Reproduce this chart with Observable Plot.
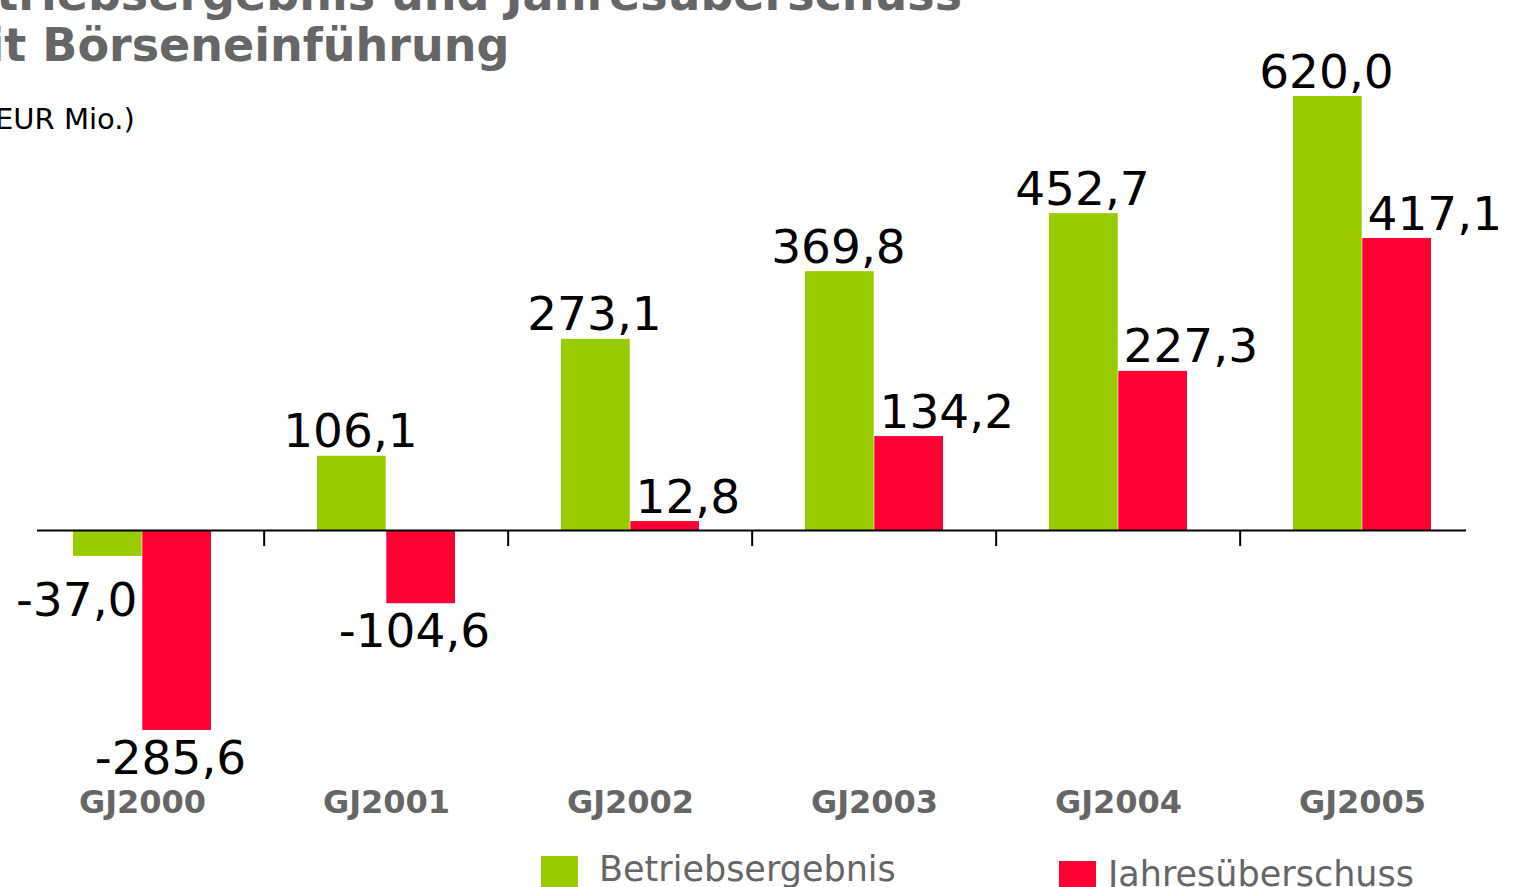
<!DOCTYPE html>
<html>
<head>
<meta charset="utf-8">
<script src="https://cdn.jsdelivr.net/npm/d3@7"></script>
<script src="https://cdn.jsdelivr.net/npm/@observablehq/plot@0.6"></script>
<style>
  body { margin: 0; background: #fff; }
  #wrap { position: relative; width: 1516px; height: 887px; overflow: hidden; font-family: "DejaVu Sans", Verdana, sans-serif; }
  #title { position: absolute; left: -70px; top: -31px; font-weight: bold; font-size: 46px; line-height: 51px; color: #666; white-space: nowrap; }
  #subtitle { position: absolute; left: -52px; top: 105px; font-size: 29px; line-height: 29px; color: #000; white-space: nowrap; }
  #chart { position: absolute; left: 0; top: 0; }
  .leg { position: absolute; display: flex; align-items: flex-start; font-size: 35px; color: #666; white-space: nowrap; }
  .sw { width: 37px; height: 37px; flex: none; }
</style>
</head>
<body>
<div id="wrap">
  <div id="chart"></div>
  <div id="title">Betriebsergebnis und Jahresüberschuss<br>seit Börseneinführung</div>
  <div id="subtitle">(in EUR Mio.)</div>
  <div id="legend"></div>
</div>
<script>
const categories = ["GJ2000", "GJ2001", "GJ2002", "GJ2003", "GJ2004", "GJ2005"];
const seriesNames = ["Betriebsergebnis", "Jahresüberschuss"];
const betriebsergebnis = [-37.0, 106.1, 273.1, 369.8, 452.7, 620.0];
const jahresueberschuss = [-285.6, -104.6, 12.8, 134.2, 227.3, 417.1];
const colors = ["#99CC00", "#FF0033"];

const data = categories.flatMap((c, i) => [
  {cat: c, series: seriesNames[0], value: betriebsergebnis[i]},
  {cat: c, series: seriesNames[1], value: jahresueberschuss[i]}
]);
const fmt = v => v.toFixed(1).replace(".", ",");
const green = data.filter(d => d.series === seriesNames[0]);
const red = data.filter(d => d.series === seriesNames[1]);
const labelStyle = {fontSize: 47, fill: "#000", fontFamily: "DejaVu Sans, Verdana, sans-serif"};

const chart = Plot.plot({
  width: 1516,
  height: 887,
  marginTop: 75,
  marginBottom: 147,
  marginLeft: 18,
  marginRight: 30,
  style: {background: "transparent", fontFamily: "DejaVu Sans, Verdana, sans-serif"},
  x: {type: "band", domain: categories, padding: 0, label: null},
  y: {domain: [-300, 650], axis: null},
  marks: [
    Plot.barY(green, {x: "cat", y: "value", fill: colors[0], insetLeft: 53, insetRight: 122.3}),
    Plot.barY(red, {x: "cat", y: "value", fill: colors[1], insetLeft: 122.3, insetRight: 53}),
    Plot.ruleY([0], {stroke: "#000", strokeWidth: 2, insetLeft: 19, insetRight: 20}),
    Plot.ruleX(categories.slice(1), {x: d => d, y1: 0, y2: -23, dx: -122.33, stroke: "#000", strokeWidth: 2}),
    Plot.text(green.filter(d => d.value >= 0), {x: "cat", y: "value", text: d => fmt(d.value), textAnchor: "middle", lineAnchor: "bottom", dx: -36, dy: -9, ...labelStyle}),
    Plot.text(green.filter(d => d.value < 0), {x: "cat", y: "value", text: d => fmt(d.value), textAnchor: "end", lineAnchor: "top", dx: -5, dy: 26, ...labelStyle}),
    Plot.text(red.filter(d => d.value >= 0), {x: "cat", y: "value", text: d => fmt(d.value), textAnchor: "start", lineAnchor: "bottom", dx: 5, dy: -9, ...labelStyle}),
    Plot.text(red.filter(d => d.value < 0), {x: "cat", y: "value", text: d => fmt(d.value), textAnchor: "middle", lineAnchor: "top", dx: 28, dy: 10, ...labelStyle}),
    Plot.axisX({anchor: "bottom", tickSize: 0, tickPadding: 50, fontSize: 32, fontWeight: "bold", color: "#666", label: null})
  ]
});
document.getElementById("chart").appendChild(chart);

const legendPos = [{left: 541, top: 856, gap: 21}, {left: 1059, top: 861, gap: 12}];
const legend = document.getElementById("legend");
seriesNames.forEach((name, i) => {
  const item = document.createElement("div");
  item.className = "leg";
  item.style.left = legendPos[i].left + "px";
  item.style.top = legendPos[i].top + "px";
  const sw = document.createElement("div");
  sw.className = "sw";
  sw.style.background = colors[i];
  sw.style.marginRight = legendPos[i].gap + "px";
  const tx = document.createElement("div");
  tx.textContent = name;
  tx.style.lineHeight = "35px";
  tx.style.marginTop = "-4px";
  item.appendChild(sw);
  item.appendChild(tx);
  legend.appendChild(item);
});
</script>
</body>
</html>
